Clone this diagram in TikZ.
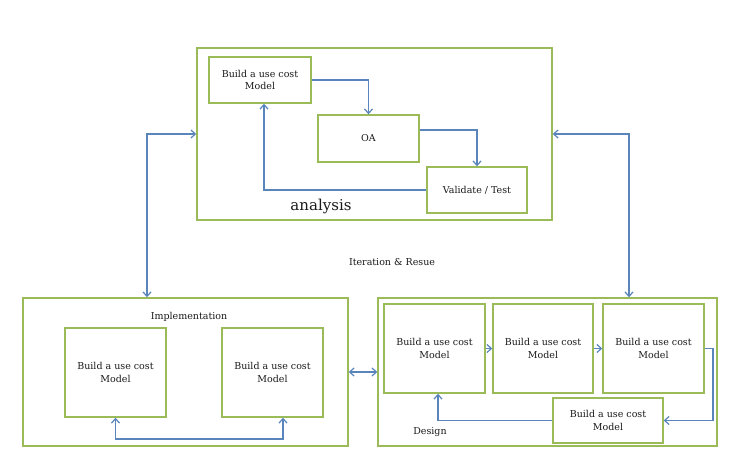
\documentclass[tikz,border=0pt]{standalone}
\usepackage{fontspec}
\setmainfont{DejaVu Serif}
\usetikzlibrary{arrows.meta}
\definecolor{olivebd}{HTML}{9BBB59}
\definecolor{arrowbl}{HTML}{5A85BC}
\definecolor{txt}{HTML}{1A1A1A}
\begin{document}
\begin{tikzpicture}[x=1pt,y=-1pt,
  boxc/.style={draw=olivebd,line width=1.4pt,fill=white,inner sep=0pt,align=center,text=txt,
    font=\fontsize{9.5}{12.5}\selectfont},
  container/.style={draw=olivebd,line width=1.4pt,inner sep=0pt},
  flow/.style={draw=arrowbl,line width=1.7pt,-{Straight Barb[length=4.5pt,width=8pt,line width=1.2pt]}},
  biflow/.style={draw=arrowbl,line width=1.7pt,{Straight Barb[length=4.5pt,width=8pt,line width=1.2pt]}-{Straight Barb[length=4.5pt,width=8pt,line width=1.2pt]}},
  lbl/.style={text=txt,inner sep=0pt,font=\fontsize{9.5}{12.5}\selectfont}]
\useasboundingbox[fill=white] (0,0) rectangle (743,461);
% containers
\node[container,minimum width=355pt,minimum height=172pt] (An) at (374.5,134) {};
\node[container,minimum width=325pt,minimum height=148pt] (Impl) at (185.5,372) {};
\node[container,minimum width=339pt,minimum height=148pt] (Des) at (547.5,372) {};
% analysis
\node[boxc,minimum width=102pt,minimum height=46pt] (A1) at (260,80) {Build a use cost\\Model};
\node[boxc,minimum width=101pt,minimum height=47pt] (OA) at (368.5,138.5) {OA};
\node[boxc,minimum width=100pt,minimum height=46pt] (VT) at (477,190) {Validate / Test};
\node[text=txt,inner sep=0pt,font=\fontsize{15}{17}\selectfont] (anl) at (321,206) {analysis};
\draw[flow] (A1.east) -| (OA.north);
\draw[flow] ([yshift=8.5pt]OA.east) -| (VT.north);
\draw[flow] (VT.west) -| ([xshift=4pt]A1.south);
% implementation
\node[lbl] (implt) at (189,317) {Implementation};
\node[boxc,minimum width=101pt,minimum height=89pt] (I1) at (115.5,372.5) {Build a use cost\\Model};
\node[boxc,minimum width=101pt,minimum height=89pt] (I2) at (272.5,372.5) {Build a use cost\\Model};
\draw[biflow] (I1.south) -- ++(0,21) -| ([xshift=10.5pt]I2.south);
% design
\node[boxc,minimum width=101pt,minimum height=89pt] (D1) at (434.5,348.5) {Build a use cost\\Model};
\node[boxc,minimum width=100pt,minimum height=89pt] (D2) at (543,348.5) {Build a use cost\\Model};
\node[boxc,minimum width=101pt,minimum height=89pt] (D3) at (653.5,348.5) {Build a use cost\\Model};
\node[boxc,minimum width=110pt,minimum height=45pt] (D4) at (608,420.5) {Build a use cost\\Model};
\node[lbl] (dest) at (430,432) {Design};
\draw[flow] (D1.east) -- (D2.west);
\draw[flow] (D2.east) -- (D3.west);
\draw[flow] (D3.east) -- ++(8,0) |- (D4.east);
\draw[flow] (D4.west) -| ([xshift=3.5pt]D1.south);
% between containers
\node[lbl] (iter) at (392,262) {Iteration \& Resue};
\draw[biflow] (An.west) -| ([xshift=-38.5pt]Impl.north);
\draw[biflow] (An.east) -| ([xshift=81.5pt]Des.north);
\draw[biflow] (Impl.east) -- (Des.west);
\end{tikzpicture}
\end{document}
